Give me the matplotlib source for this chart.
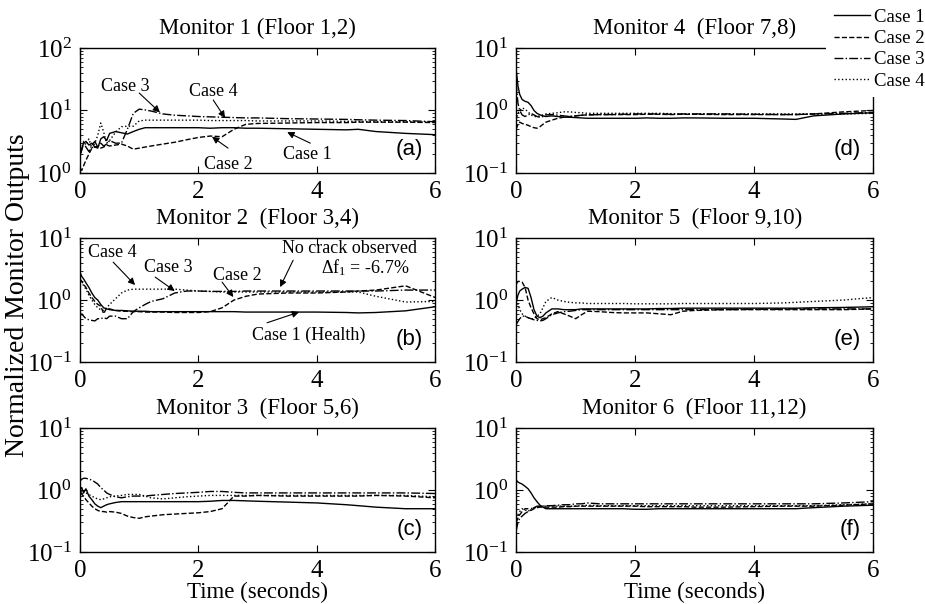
import matplotlib
matplotlib.use('Agg')
import matplotlib.pyplot as plt
from matplotlib.ticker import LogLocator, NullFormatter

plt.rcParams['font.family'] = ['Liberation Serif', 'DejaVu Serif']
plt.rcParams['mathtext.default'] = 'regular'

# sample times (seconds), shared by every monitor record
t = [0, 0.03, 0.06, 0.1, 0.15, 0.2, 0.25, 0.3, 0.35, 0.4, 0.45, 0.5, 0.6, 0.7,
     0.8, 0.9, 1.0, 1.1, 1.2, 1.4, 1.6, 1.8, 2.0, 2.2, 2.4, 2.6, 2.8, 3.0, 3.5,
     4.0, 4.5, 4.7, 5.0, 5.5, 6.0]

cases = ['Case 1', 'Case 2', 'Case 3', 'Case 4']
styles = ['-', '--', '-.', ':']

# Monitor 1 (Floor 1,2)
m1_case1 = [2.0, 2.5, 3.0, 3.2, 2.8, 3.0, 2.6, 2.5, 3.5, 3.8, 3.3, 4.3, 4.6, 4.4, 4.2, 4.6, 5.0, 5.3,
            5.3, 5.3, 5.3, 5.3, 5.3, 5.2, 5.3, 5.3, 5.2, 5.2, 5.1, 5.0, 4.9, 5.0, 4.6, 4.3, 4.1]
m1_case2 = [1.2, 1.1, 1.3, 1.6, 2.0, 2.5, 2.6, 2.7, 2.5, 2.6, 2.8, 2.7, 2.8, 2.9, 2.7, 2.4, 2.5, 2.6,
            2.7, 2.9, 3.1, 3.4, 3.7, 3.9, 3.8, 5.0, 6.0, 6.2, 6.3, 6.4, 6.4, 6.5, 6.5, 6.5, 6.4]
m1_case3 = [2.0, 2.3, 3.0, 2.6, 2.2, 2.8, 3.2, 2.6, 3.0, 2.7, 2.9, 3.3, 3.0, 3.0, 5.0, 9.0, 10.5, 10.2,
            9.8, 8.8, 8.4, 8.2, 8.0, 7.9, 7.8, 7.7, 7.6, 7.6, 7.4, 7.3, 7.2, 7.1, 7.0, 6.9, 6.6]
m1_case4 = [1.8, 2.5, 3.2, 2.8, 3.5, 2.5, 3.0, 4.0, 6.3, 4.5, 3.0, 3.3, 4.5, 5.5, 5.6, 5.6, 6.8, 7.0,
            7.0, 7.0, 7.0, 7.0, 7.0, 6.9, 6.9, 6.9, 6.9, 6.8, 6.8, 6.8, 6.7, 6.7, 6.6, 6.6, 6.5]

# Monitor 2 (Floor 3,4)
m2_case1 = [2.8, 2.4, 2.2, 1.9, 1.6, 1.3, 1.1, 1.0, 0.85, 0.75, 0.72, 0.7, 0.68, 0.68, 0.67, 0.66, 0.66,
            0.66, 0.65, 0.65, 0.65, 0.65, 0.65, 0.65, 0.65, 0.65, 0.64, 0.64, 0.64, 0.64, 0.63, 0.62,
            0.63, 0.67, 0.78]
m2_case2 = [2.2, 2.0, 1.8, 1.6, 1.3, 1.1, 0.95, 0.85, 0.8, 0.6, 0.75, 0.72, 0.68, 0.66, 0.66, 0.65,
            0.65, 0.64, 0.64, 0.64, 0.63, 0.63, 0.63, 0.65, 0.75, 1.0, 1.15, 1.25, 1.3, 1.3, 1.35, 1.4,
            1.45, 1.7, 1.1]
m2_case3 = [0.55, 0.6, 0.55, 0.5, 0.48, 0.47, 0.46, 0.5, 0.5, 0.52, 0.5, 0.55, 0.55, 0.5, 0.5, 0.65,
            0.75, 0.85, 0.95, 1.05, 1.3, 1.4, 1.4, 1.38, 1.38, 1.38, 1.4, 1.4, 1.4, 1.4, 1.4, 1.4,
            1.4, 1.45, 1.45]
m2_case4 = [2.3, 2.0, 1.7, 1.5, 1.2, 1.0, 0.85, 0.75, 0.7, 0.68, 0.75, 0.85, 1.05, 1.3, 1.45, 1.5,
            1.5, 1.5, 1.5, 1.5, 1.5, 1.45, 1.4, 1.38, 1.35, 1.35, 1.35, 1.35, 1.35, 1.35, 1.35, 1.35,
            1.15, 0.93, 0.95]

# Monitor 3 (Floor 5,6)
m3_case1 = [1.0, 1.1, 0.9, 1.05, 0.8, 0.7, 0.6, 0.55, 0.52, 0.55, 0.58, 0.6, 0.63, 0.65, 0.65, 0.65,
            0.65, 0.65, 0.65, 0.65, 0.65, 0.65, 0.65, 0.66, 0.68, 0.68, 0.67, 0.66, 0.64, 0.62, 0.58,
            0.56, 0.53, 0.5, 0.5]
m3_case2 = [0.9, 0.85, 0.8, 0.7, 0.62, 0.55, 0.5, 0.47, 0.45, 0.45, 0.44, 0.45, 0.44, 0.42, 0.38, 0.36,
            0.35, 0.37, 0.38, 0.4, 0.41, 0.42, 0.43, 0.45, 0.5, 0.8, 0.8, 0.82, 0.8, 0.8, 0.8, 0.8,
            0.82, 0.8, 0.75]
m3_case3 = [1.4, 1.5, 1.55, 1.55, 1.5, 1.45, 1.35, 1.25, 1.1, 1.0, 0.9, 0.85, 0.78, 0.75, 0.78, 0.8,
            0.8, 0.8, 0.82, 0.85, 0.88, 0.9, 0.92, 0.95, 0.95, 0.92, 0.9, 0.9, 0.9, 0.9, 0.9, 0.9,
            0.9, 0.9, 0.88]
m3_case4 = [0.8, 0.95, 1.0, 0.9, 0.85, 0.8, 0.75, 0.72, 0.7, 0.72, 0.75, 0.78, 0.8, 0.82, 0.85, 0.85,
            0.85, 0.8, 0.75, 0.72, 0.75, 0.78, 0.8, 0.82, 0.82, 0.82, 0.82, 0.82, 0.82, 0.82, 0.82,
            0.82, 0.82, 0.82, 0.78]

# Monitor 4 (Floor 7,8)
m4_case1 = [4.5, 2.5, 1.8, 1.5, 1.4, 1.35, 1.2, 1.0, 0.9, 0.85, 0.82, 0.8, 0.82, 0.8, 0.78, 0.78, 0.77,
            0.76, 0.75, 0.75, 0.75, 0.75, 0.75, 0.76, 0.75, 0.75, 0.76, 0.76, 0.75, 0.75, 0.73, 0.72,
            0.82, 0.88, 0.92]
m4_case2 = [0.5, 0.6, 0.65, 0.62, 0.6, 0.58, 0.55, 0.53, 0.52, 0.55, 0.6, 0.65, 0.7, 0.75, 0.78, 0.8,
            0.82, 0.84, 0.85, 0.86, 0.86, 0.86, 0.86, 0.87, 0.87, 0.86, 0.87, 0.87, 0.86, 0.86, 0.86,
            0.86, 0.88, 0.95, 1.0]
m4_case3 = [2.8, 1.3, 1.0, 0.85, 0.8, 0.85, 0.9, 0.85, 0.8, 0.78, 0.8, 0.85, 0.86, 0.84, 0.82, 0.8,
            0.82, 0.84, 0.85, 0.86, 0.86, 0.87, 0.88, 0.88, 0.88, 0.87, 0.88, 0.88, 0.88, 0.87, 0.86,
            0.86, 0.88, 0.9, 0.93]
m4_case4 = [0.7, 0.9, 1.0, 1.1, 1.05, 0.95, 0.85, 0.8, 0.8, 0.82, 0.85, 0.88, 0.9, 0.92, 0.95, 0.95,
            0.93, 0.92, 0.9, 0.9, 0.9, 0.9, 0.9, 0.9, 0.9, 0.89, 0.88, 0.88, 0.88, 0.88, 0.88, 0.88,
            0.88, 0.88, 0.9]

# Monitor 5 (Floor 9,10)
m5_case1 = [0.9, 1.2, 1.4, 1.5, 1.6, 1.55, 1.1, 0.7, 0.55, 0.52, 0.55, 0.62, 0.72, 0.72, 0.7, 0.7,
            0.7, 0.72, 0.72, 0.72, 0.72, 0.72, 0.72, 0.72, 0.73, 0.73, 0.74, 0.74, 0.74, 0.74, 0.74,
            0.74, 0.75, 0.76, 0.78]
m5_case2 = [1.8, 2.0, 2.0, 1.95, 1.6, 1.0, 0.75, 0.6, 0.5, 0.48, 0.5, 0.52, 0.6, 0.65, 0.6, 0.55,
            0.5, 0.58, 0.66, 0.65, 0.63, 0.62, 0.62, 0.62, 0.6, 0.58, 0.66, 0.68, 0.7, 0.7, 0.7, 0.7,
            0.7, 0.7, 0.72]
m5_case3 = [0.4, 0.45, 0.5, 0.55, 0.55, 0.52, 0.5, 0.48, 0.47, 0.46, 0.47, 0.5, 0.58, 0.62, 0.65,
            0.66, 0.68, 0.7, 0.7, 0.7, 0.7, 0.7, 0.7, 0.7, 0.7, 0.7, 0.7, 0.7, 0.7, 0.71, 0.71, 0.72,
            0.72, 0.72, 0.72]
m5_case4 = [1.0, 0.85, 0.7, 0.6, 0.55, 0.52, 0.5, 0.5, 0.55, 0.6, 0.75, 0.95, 1.1, 1.0, 0.95, 0.92,
            0.9, 0.9, 0.88, 0.88, 0.88, 0.88, 0.87, 0.87, 0.87, 0.87, 0.88, 0.88, 0.88, 0.88, 0.9,
            0.92, 0.95, 1.0, 1.1]

# Monitor 6 (Floor 11,12)
m6_case1 = [1.45, 1.35, 1.3, 1.25, 1.15, 1.05, 0.9, 0.75, 0.65, 0.57, 0.53, 0.5, 0.5, 0.5, 0.5, 0.5,
            0.5, 0.5, 0.5, 0.5, 0.5, 0.5, 0.49, 0.49, 0.5, 0.5, 0.5, 0.5, 0.5, 0.5, 0.5, 0.5, 0.52,
            0.55, 0.57]
m6_case2 = [0.3, 0.35, 0.4, 0.45, 0.5, 0.5, 0.47, 0.5, 0.52, 0.53, 0.53, 0.53, 0.53, 0.53, 0.54, 0.54,
            0.55, 0.55, 0.55, 0.55, 0.55, 0.55, 0.55, 0.54, 0.54, 0.54, 0.54, 0.53, 0.53, 0.54, 0.55,
            0.55, 0.55, 0.57, 0.6]
m6_case3 = [0.22, 0.3, 0.35, 0.38, 0.42, 0.45, 0.48, 0.52, 0.55, 0.55, 0.55, 0.56, 0.56, 0.57, 0.58,
            0.58, 0.6, 0.6, 0.62, 0.6, 0.6, 0.6, 0.6, 0.6, 0.6, 0.6, 0.6, 0.6, 0.6, 0.6, 0.6, 0.6,
            0.6, 0.62, 0.65]
m6_case4 = [0.35, 0.4, 0.45, 0.5, 0.48, 0.45, 0.5, 0.52, 0.52, 0.55, 0.55, 0.55, 0.56, 0.55, 0.55,
            0.55, 0.55, 0.56, 0.57, 0.56, 0.56, 0.56, 0.56, 0.56, 0.56, 0.56, 0.56, 0.56, 0.56, 0.56,
            0.56, 0.56, 0.56, 0.58, 0.6]

titles = ['Monitor 1 (Floor 1,2)', 'Monitor 2  (Floor 3,4)', 'Monitor 3  (Floor 5,6)',
          'Monitor 4  (Floor 7,8)', 'Monitor 5  (Floor 9,10)', 'Monitor 6  (Floor 11,12)']
tags = ['(a)', '(b)', '(c)', '(d)', '(e)', '(f)']
ylims = [(1, 100), (0.1, 10), (0.1, 10), (0.1, 10), (0.1, 10), (0.1, 10)]
monitors = [
    [m1_case1, m1_case2, m1_case3, m1_case4],
    [m2_case1, m2_case2, m2_case3, m2_case4],
    [m3_case1, m3_case2, m3_case3, m3_case4],
    [m4_case1, m4_case2, m4_case3, m4_case4],
    [m5_case1, m5_case2, m5_case3, m5_case4],
    [m6_case1, m6_case2, m6_case3, m6_case4],
]

fig = plt.figure(figsize=(9.25, 6.04), dpi=100)

# axes boxes, MATLAB-like subplot grid (3 rows x 2 columns)
lefts = [0.0865, 0.558]
widths = [0.384, 0.386]
bottoms = [0.7136, 0.4007, 0.0861]
heights = [0.207, 0.205, 0.205]

axes = []
for i in range(6):
    col, row = i // 3, i % 3
    ax = fig.add_axes([lefts[col], bottoms[row], widths[col], heights[row]])
    for vals, ls, name in zip(monitors[i], styles, cases):
        ax.plot(t, vals, ls, color='k', lw=1.0, label=name)
    ax.set_yscale('log')
    ax.set_xlim(0, 6)
    ax.set_ylim(*ylims[i])
    ax.set_xticks([0, 2, 4, 6])
    ax.yaxis.set_major_locator(LogLocator(base=10))
    ax.yaxis.set_minor_locator(LogLocator(base=10, subs=range(2, 10)))
    ax.yaxis.set_minor_formatter(NullFormatter())
    ax.tick_params(which='both', direction='in', top=True, right=True, labelsize=18)
    ax.tick_params(which='major', length=5, width=0.8, pad=6)
    ax.tick_params(which='minor', length=2.5, width=0.6)
    for sp in ax.spines.values():
        sp.set_linewidth(1.0)
    ax.set_title(titles[i], fontsize=16.5, pad=10)
    ax.text(0.965, 0.1, tags[i], transform=ax.transAxes, ha='right', va='bottom',
            fontsize=16, family=['Liberation Sans', 'DejaVu Sans'])
    axes.append(ax)

axes[2].set_xlabel('Time (seconds)', fontsize=16.5, labelpad=0)
axes[5].set_xlabel('Time (seconds)', fontsize=16.5, labelpad=0)

fig.text(0.019, 0.512, 'Normalized Monitor Outputs', rotation=90, ha='center', va='center',
         fontsize=20)

arrow = dict(arrowstyle='-|>', color='k', lw=0.8, mutation_scale=10, shrinkA=0, shrinkB=0)

# callouts on Monitor 1
ax = axes[0]
ax.text(0.76, 23.8, 'Case 3', ha='center', va='center', fontsize=13)
ax.annotate('', xy=(1.35, 9.3), xytext=(1.0, 19), arrowprops=arrow)
ax.text(2.25, 19.8, 'Case 4', ha='center', va='center', fontsize=13)
ax.annotate('', xy=(2.45, 7.6), xytext=(2.25, 14.7), arrowprops=arrow)
ax.text(3.84, 1.94, 'Case 1', ha='center', va='center', fontsize=13)
ax.annotate('', xy=(3.5, 4.5), xytext=(3.89, 3.0), arrowprops=arrow)
ax.text(2.5, 1.39, 'Case 2', ha='center', va='center', fontsize=13)
ax.annotate('', xy=(2.23, 3.8), xytext=(2.5, 2.5), arrowprops=arrow)

# callouts on Monitor 2
ax = axes[1]
ax.text(0.54, 5.95, 'Case 4', ha='center', va='center', fontsize=13)
ax.annotate('', xy=(0.93, 1.75), xytext=(0.56, 4.1), arrowprops=arrow)
ax.text(1.49, 3.4, 'Case 3', ha='center', va='center', fontsize=13)
ax.annotate('', xy=(1.6, 1.4), xytext=(1.27, 2.35), arrowprops=arrow)
ax.text(2.65, 2.5, 'Case 2', ha='center', va='center', fontsize=13)
ax.annotate('', xy=(2.59, 1.12), xytext=(2.4, 1.95), arrowprops=arrow)
ax.text(4.55, 6.9, 'No crack observed', ha='center', va='center', fontsize=13)
ax.text(4.81, 3.4, 'Δf$_1$ = -6.7%', ha='center', va='center', fontsize=13)
ax.annotate('', xy=(3.38, 1.62), xytext=(3.6, 4.4), arrowprops=arrow)
ax.text(3.87, 0.27, 'Case 1 (Health)', ha='center', va='center', fontsize=13)
ax.annotate('', xy=(3.7, 0.64), xytext=(3.16, 0.43), arrowprops=arrow)

leg = fig.legend(*axes[3].get_legend_handles_labels(), loc='upper right',
                 bbox_to_anchor=(1.008, 0.998), fontsize=13.5, frameon=True, fancybox=False,
                 handlelength=1.9, handletextpad=0.25, labelspacing=0.22, borderpad=0.4,
                 borderaxespad=0)
leg.get_frame().set_facecolor('white')
leg.get_frame().set_edgecolor('none')
leg.get_frame().set_alpha(1)

fig.savefig('out.png', dpi=100)
